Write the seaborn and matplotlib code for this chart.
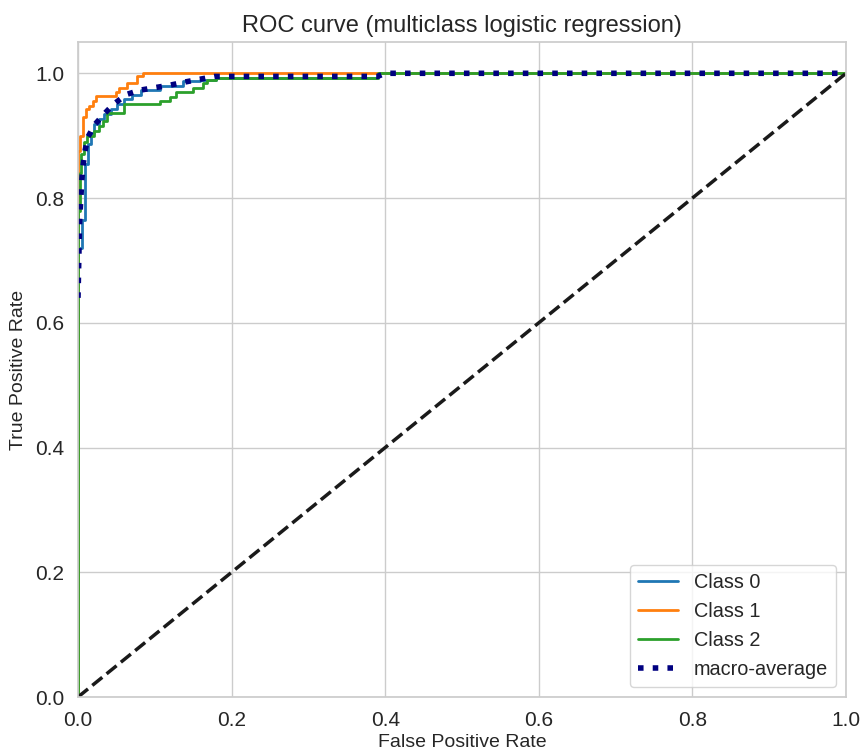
import matplotlib
matplotlib.use("Agg")
import matplotlib.pyplot as plt
import seaborn as sns

# ROC points (false positive rate, true positive rate)
fpr_0 = [0, 0, 0.005, 0.005, 0.009, 0.009, 0.013, 0.013, 0.017, 0.017, 0.021, 0.021, 0.027, 0.027,
         0.034, 0.034, 0.043, 0.043, 0.051, 0.051, 0.06, 0.06, 0.07, 0.07, 0.082, 0.082, 0.107, 0.107,
         0.137, 0.137, 0.159, 0.159, 0.18, 0.18, 0.39, 0.39, 1.0]
tpr_0 = [0, 0.72, 0.72, 0.765, 0.765, 0.855, 0.855, 0.886, 0.886, 0.905, 0.905, 0.918, 0.918, 0.926,
         0.926, 0.934, 0.934, 0.942, 0.942, 0.95, 0.95, 0.958, 0.958, 0.966, 0.966, 0.974, 0.974, 0.979,
         0.979, 0.987, 0.987, 0.99, 0.99, 0.993, 0.993, 1.0, 1.0]

fpr_1 = [0, 0, 0.003, 0.003, 0.006, 0.006, 0.01, 0.01, 0.014, 0.014, 0.019, 0.019,
         0.023, 0.023, 0.049, 0.049, 0.053, 0.053, 0.064, 0.064, 0.077, 0.077, 0.085, 0.085, 1.0]
tpr_1 = [0, 0.875, 0.875, 0.90, 0.90, 0.93, 0.93, 0.942, 0.942, 0.947, 0.947, 0.955,
         0.955, 0.964, 0.964, 0.97, 0.97, 0.977, 0.977, 0.985, 0.985, 0.995, 0.995, 1.0, 1.0]

fpr_2 = [0, 0, 0.002, 0.002, 0.004, 0.004, 0.008, 0.008, 0.012, 0.012, 0.021, 0.021, 0.027, 0.027,
         0.033, 0.033, 0.038, 0.038, 0.06, 0.06, 0.107, 0.107, 0.12, 0.12, 0.128, 0.128, 0.15, 0.15,
         0.163, 0.163, 0.168, 0.168, 0.18, 0.18, 0.39, 0.39, 1.0]
tpr_2 = [0, 0.78, 0.78, 0.84, 0.84, 0.87, 0.87, 0.89, 0.89, 0.899, 0.899, 0.907, 0.907, 0.915,
         0.915, 0.923, 0.923, 0.936, 0.936, 0.95, 0.95, 0.956, 0.956, 0.962, 0.962, 0.97, 0.97, 0.977,
         0.977, 0.985, 0.985, 0.99, 0.99, 0.993, 0.993, 1.0, 1.0]

fpr_macro = [0, 0.002, 0.005, 0.0065, 0.009, 0.013, 0.022, 0.035, 0.046, 0.063, 0.081, 0.1, 0.12,
             0.139, 0.161, 0.178, 0.39, 0.40, 1.0]
tpr_macro = [0.64, 0.76, 0.83, 0.851, 0.875, 0.898, 0.918, 0.936, 0.95, 0.966, 0.973, 0.977, 0.981,
             0.986, 0.991, 0.995, 0.995, 1.0, 1.0]

class_names = ["Class 0", "Class 1", "Class 2"]
class_colors = ["#1f77b4", "#ff7f0e", "#2ca02c"]

sns.set_theme(style="whitegrid")
plt.rcParams["font.family"] = ["Liberation Sans", "DejaVu Sans"]

fig, ax = plt.subplots(figsize=(8.61, 7.52), dpi=100)
fig.subplots_adjust(left=0.0906, right=0.9826, top=0.944, bottom=0.0731)

for fpr, tpr, name, col in zip([fpr_0, fpr_1, fpr_2], [tpr_0, tpr_1, tpr_2], class_names, class_colors):
    sns.lineplot(x=fpr, y=tpr, sort=False, estimator=None, color=col, linewidth=2, label=name, ax=ax)

sns.lineplot(x=fpr_macro, y=tpr_macro, sort=False, estimator=None, color="navy",
             linestyle=":", linewidth=4, label="macro-average", ax=ax)

# chance line
ax.plot([0, 1], [0, 1], "k--", lw=2.5)

ax.set_xlim(0, 1)
ax.set_ylim(0, 1.05)
ax.set_xticks([0, 0.2, 0.4, 0.6, 0.8, 1.0])
ax.set_yticks([0, 0.2, 0.4, 0.6, 0.8, 1.0])
ax.tick_params(labelsize=15, pad=4)
ax.set_xlabel("False Positive Rate", fontsize=14, labelpad=3)
ax.set_ylabel("True Positive Rate", fontsize=14, labelpad=6)
ax.set_title("ROC curve (multiclass logistic regression)", fontsize=17, pad=7)
ax.legend(loc="lower right", fontsize=14.3)

fig.savefig("out.png", dpi=100)
